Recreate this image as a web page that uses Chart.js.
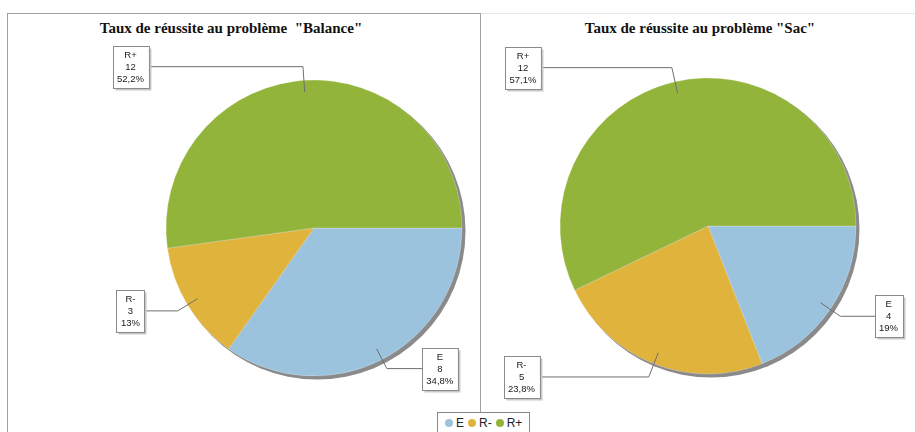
<!DOCTYPE html>
<html>
<head>
<meta charset="utf-8">
<script src="https://cdn.jsdelivr.net/npm/chart.js@4.4.1/dist/chart.umd.min.js"></script>
<style>
  body { margin: 0; background: #fff; width: 915px; height: 432px; overflow: hidden; position: relative; font-family: "Liberation Sans", Arial, sans-serif; }
  .line { position: absolute; background: #a0a0a0; }
  .title { position: absolute; top: 20px; font: bold 15px "Liberation Serif", "Times New Roman", serif; color: #111; text-align: center; white-space: pre; }
  canvas { position: absolute; }
  #legend { position: absolute; left: 437px; top: 412px; width: 93px; height: 22px; box-sizing: border-box; border: 1px solid #888; background: #fff;
            display: flex; align-items: center; justify-content: flex-start; padding-left: 3px; font-size: 12px; color: #222; }
  #legend span.dot { display: inline-block; width: 8px; height: 8px; border-radius: 50%; margin: 0 3px 0 4px; }
</style>
</head>
<body>
<div class="line" style="left:7px;top:13px;width:1px;height:420px"></div>
<div class="line" style="left:7px;top:13px;width:473px;height:1px"></div>
<div class="line" style="left:480px;top:13px;width:1px;height:399px"></div>
<div class="line" style="left:481px;top:13px;width:434px;height:1px;background:#e6e6e6"></div>

<div class="title" id="titleA" style="left:0;width:462px"></div>
<div class="title" id="titleB" style="left:485px;width:430px"></div>

<canvas id="pieA" width="470" height="418" style="left:8px;top:14px"></canvas>
<canvas id="pieB" width="434" height="418" style="left:481px;top:14px"></canvas>

<div id="legend"></div>

<script>
// data
const categories = ["E", "R-", "R+"];
const balanceValues = [8, 3, 12];
const sacValues = [4, 5, 12];
const titleA = 'Taux de réussite au problème  "Balance"';
const titleB = 'Taux de réussite au problème "Sac"';
const colors = ["#9cc3dd", "#e0b43c", "#93b43a"];

// label box offsets from pie centre, in radii (E, R-, R+)
const boxOffsetsA = [[0.85, 0.95], [-1.24, 0.56], [-1.24, -1.09]];
const boxOffsetsB = [[1.22, 0.61], [-1.26, 1.02], [-1.25, -1.07]];

document.getElementById("titleA").textContent = titleA;
document.getElementById("titleB").textContent = titleB;

function pctText(v, total) {
  let p = (Math.round(v / total * 1000) / 10).toFixed(1);
  if (p.endsWith(".0")) p = p.slice(0, -2);
  return p.replace(".", ",") + "%";
}

const pieExtras = {
  id: "pieExtras",
  beforeDatasetsDraw(chart) {
    const arc = chart.getDatasetMeta(0).data[0];
    const ctx = chart.ctx;
    ctx.save();
    ctx.fillStyle = "#8a8a8a";
    ctx.beginPath();
    ctx.arc(arc.x + 3, arc.y + 3, arc.outerRadius + 0.5, 0, Math.PI * 2);
    ctx.fill();
    ctx.restore();
  },
  afterDatasetsDraw(chart, args, opts) {
    const ctx = chart.ctx;
    const ds = chart.data.datasets[0];
    const total = ds.data.reduce((a, b) => a + b, 0);
    ctx.save();
    ctx.font = "9.5px 'Liberation Sans', Arial, sans-serif";
    ctx.textAlign = "center";
    ctx.textBaseline = "middle";
    chart.getDatasetMeta(0).data.forEach((arc, i) => {
      const cx = arc.x, cy = arc.y, r = arc.outerRadius;
      const mid = (arc.startAngle + arc.endAngle) / 2;
      const off = opts.offsets[i];
      const bx = cx + off[0] * r, by = cy + off[1] * r;
      const ax = cx + Math.cos(mid) * r * 0.92, ay = cy + Math.sin(mid) * r * 0.92;
      let t = (by - cy) / Math.sin(mid);
      if (!(t > r * 0.92)) t = r * 1.05;
      const ex = cx + Math.cos(mid) * t, ey = by;

      const lines = [chart.data.labels[i], String(ds.data[i]), pctText(ds.data[i], total)];
      const w = Math.max(...lines.map(l => ctx.measureText(l).width)) + 9;
      const h = 42;
      const left = Math.round(bx - w / 2) + 0.5, top = Math.round(by - h / 2) + 0.5;
      const edge = bx > cx ? left : left + w;

      ctx.strokeStyle = "#6f6f6f";
      ctx.lineWidth = 1;
      ctx.beginPath();
      ctx.moveTo(ax, ay);
      ctx.lineTo(ex, ey);
      ctx.lineTo(edge, ey);
      ctx.stroke();

      ctx.fillStyle = "#c8c8c8";
      ctx.fillRect(left + 2, top + 2, w, h);
      ctx.fillStyle = "#fff";
      ctx.fillRect(left, top, w, h);
      ctx.strokeStyle = "#8a8a8a";
      ctx.strokeRect(left, top, w, h);
      ctx.fillStyle = "#1a1a1a";
      lines.forEach((l, k) => ctx.fillText(l, bx, top + 9 + k * 12));
    });
    ctx.restore();
  }
};

function makePie(id, values, padding, offsets) {
  return new Chart(document.getElementById(id), {
    type: "pie",
    data: {
      labels: categories,
      datasets: [{ data: values, backgroundColor: colors, borderColor: "rgba(255,255,255,0.5)", borderWidth: 0.5 }]
    },
    options: {
      responsive: false,
      animation: false,
      rotation: 90,
      radius: 148,
      layout: { padding: padding },
      plugins: { legend: { display: false }, tooltip: { enabled: false }, pieExtras: { offsets: offsets } }
    },
    plugins: [pieExtras]
  });
}

makePie("pieA", balanceValues, { left: 158, right: 16, top: 66, bottom: 56 }, boxOffsetsA);
makePie("pieB", sacValues, { left: 80, right: 60, top: 65, bottom: 59 }, boxOffsetsB);

const legend = document.getElementById("legend");
categories.forEach((c, i) => {
  const dot = document.createElement("span");
  dot.className = "dot";
  dot.style.background = colors[i];
  legend.appendChild(dot);
  const txt = document.createElement("span");
  txt.textContent = c;
  legend.appendChild(txt);
});
</script>
</body>
</html>
